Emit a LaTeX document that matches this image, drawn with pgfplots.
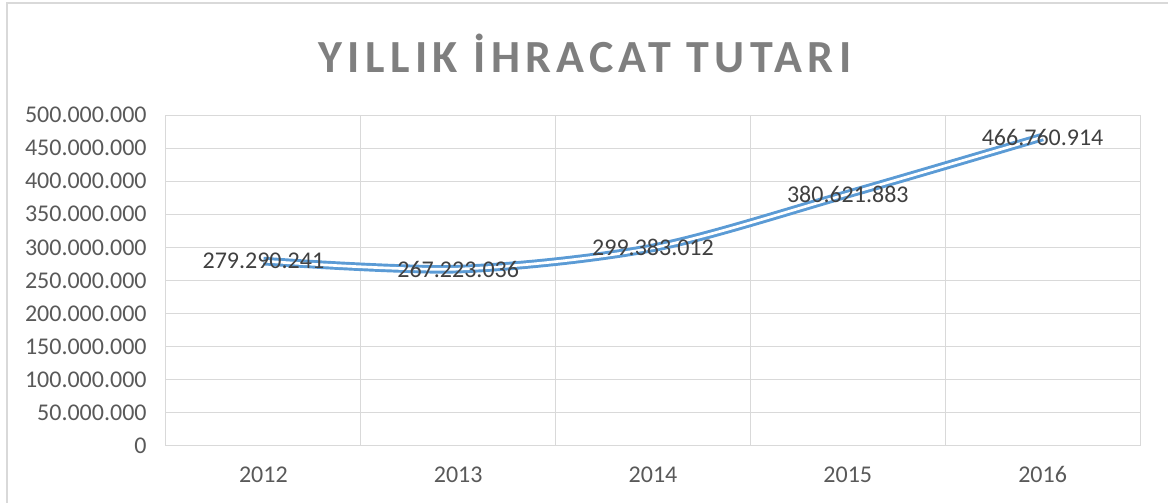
\documentclass[border=0pt]{standalone}
\usepackage{pgfplots}
\pgfplotsset{compat=1.18}
\usepackage{pgfplotstable}
\usepackage{fontspec}
\setmainfont{Carlito}
\newfontfamily\titlefont[LetterSpace=11.5]{Carlito}
\definecolor{gridc}{HTML}{D9D9D9}
\definecolor{tickc}{HTML}{595959}
\definecolor{labc}{HTML}{404040}
\definecolor{linec}{HTML}{5B9BD5}
\definecolor{titlec}{HTML}{7F7F7F}
\pgfplotstableread{
x y label
0 279290241 279.290.241
1 267223036 267.223.036
2 299383012 299.383.012
3 380621883 380.621.883
4 466760914 466.760.914
}\datatable
\begin{document}
\begin{tikzpicture}
\useasboundingbox (-124.5pt,-42.75pt) rectangle (751.5pt,334.5pt);
\draw[gridc, line width=1.5pt] (-119.6pt,-45pt) -- (-119.6pt,331.9pt) -- (760pt,331.9pt);
\node[font={\titlefont\bfseries\fontsize{34.5pt}{40pt}\selectfont}, text=titlec] at (314.25pt,294.75pt) {YILLIK İHRACAT TUTARI};
\begin{axis}[
  at={(0,0)}, anchor=south west,
  scale only axis, width=730.5pt, height=248.25pt,
  xmin=-0.5, xmax=4.5, ymin=0, ymax=500000000,
  xtick={0,1,2,3,4}, xticklabels={2012,2013,2014,2015,2016},
  minor xtick={-0.5,0.5,1.5,2.5,3.5,4.5},
  ytick={0,50000000,100000000,150000000,200000000,250000000,300000000,350000000,400000000,450000000,500000000},
  yticklabels={0,50.000.000,100.000.000,150.000.000,200.000.000,250.000.000,300.000.000,350.000.000,400.000.000,450.000.000,500.000.000},
  scaled y ticks=false,
  xmajorgrids=false, xminorgrids=true, ymajorgrids=true,
  grid style={gridc, line width=0.75pt},
  minor grid style={gridc, line width=0.75pt},
  axis line style={draw=none},
  major tick length=0pt, minor tick length=0pt,
  tick style={draw=none},
  ticklabel style={font=\fontsize{18pt}{21pt}\selectfont, text=tickc},
  yticklabel style={anchor=east, xshift=-11pt},
  xticklabel style={anchor=north, yshift=-12pt},
  clip=false,
]
\draw[gridc, line width=0.75pt] (axis cs:-0.5,0) -- (axis cs:4.5,0);
\draw[gridc, line width=0.75pt] (axis cs:-0.5,0) -- (axis cs:-0.5,500000000);
\addplot[linec, line width=2.2pt, double=white, double distance=2pt, smooth, tension=0.5,
  point meta=explicit symbolic, nodes near coords,
  every node near coord/.style={anchor=center, font=\fontsize{18pt}{21pt}\selectfont, text=labc}]
  table[x=x, y=y, meta=label] {\datatable};
\end{axis}
\end{tikzpicture}
\end{document}
